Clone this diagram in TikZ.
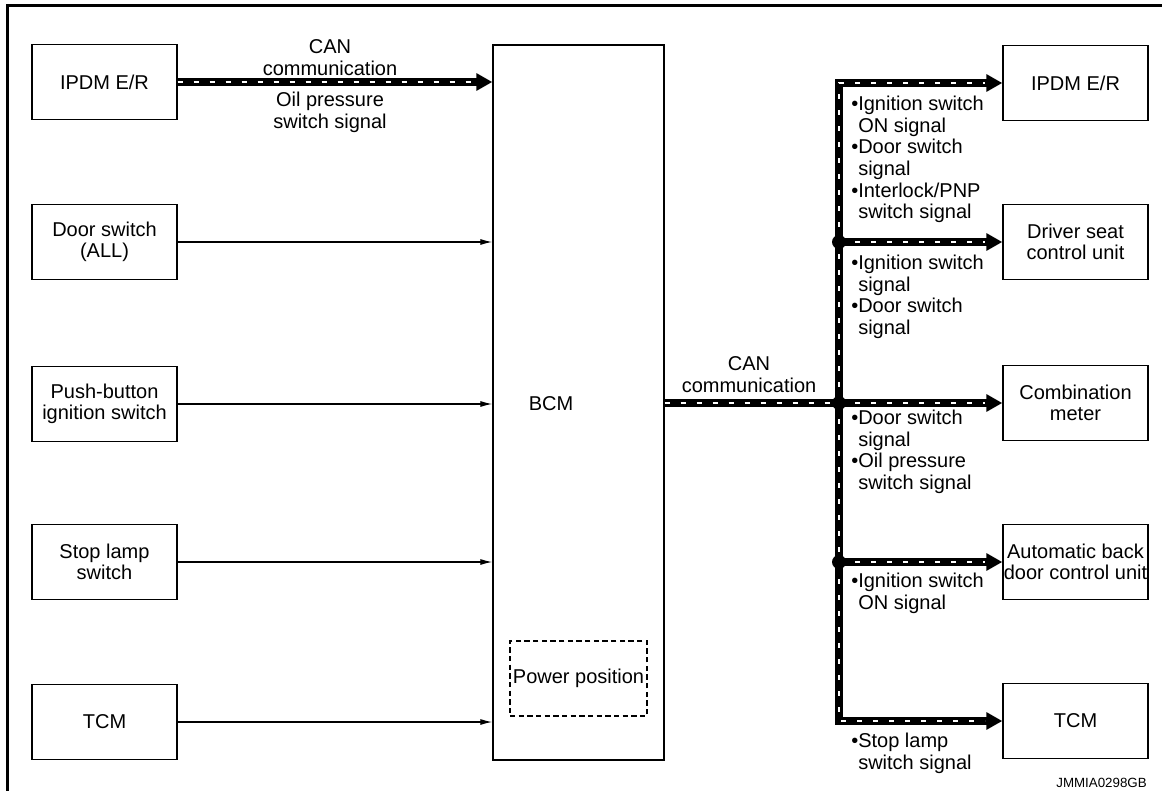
\documentclass[tikz,border=0pt]{standalone}
\usepackage{fontspec}
\setmainfont{Liberation Sans}
\usetikzlibrary{arrows.meta}
\newcommand\diagfont{\fontsize{15}{16.2}\selectfont}
\begin{document}
\begin{tikzpicture}[x=0.75pt,y=-0.75pt,
  box/.style={draw=black, line width=1pt, minimum width=108.75pt, minimum height=56.25pt, align=center, inner sep=0pt, font=\diagfont},
  lbl/.style={align=left, inner sep=0pt, font=\diagfont},
  clbl/.style={align=center, inner sep=0pt, font=\diagfont},
  sig/.style={line width=0.9pt, -{Latex[length=9pt,width=4.5pt]}},
  busline/.style={line width=5.5pt, line join=miter},
  bustip/.style={-{Triangle[length=12pt,width=12.5pt]}},
  busdash/.style={white, line width=1.7pt, dash pattern=on 4pt off 8pt},
  junc/.style={fill=black}]
\useasboundingbox (0,0) rectangle (1162,791);
\draw[line width=2.25pt] (7,6) rectangle (1190,820);

% left boxes
\node[box] (l1) at (104.5,82) {IPDM E/R};
\node[box] (l2) at (104.5,242) {Door switch\\(ALL)};
\node[box] (l3) at (104.5,404) {Push-button\\ignition switch};
\node[box] (l4) at (104.5,562) {Stop lamp\\switch};
\node[box] (l5) at (104.5,722) {TCM};

% BCM
\node[draw=black, line width=1pt, minimum width=128.25pt, minimum height=536.25pt, inner sep=0pt] (bcm) at (578.5,402.5) {};
\node[clbl] (bcmlbl) at (551,404) {BCM};
\node[draw=black, line width=0.9pt, dash pattern=on 4pt off 2.5pt, minimum width=102.75pt, minimum height=56.25pt, inner sep=0pt, font=\diagfont] (pwr) at (578.5,678.5) {Power position};

% right boxes
\node[box] (r1) at (1075.5,83) {IPDM E/R};
\node[box] (r2) at (1075.5,242) {Driver seat\\control unit};
\node[box] (r3) at (1075.5,403) {Combination\\meter};
\node[box] (r4) at (1075.5,562) {Automatic back\\door control unit};
\node[box] (r5) at (1075.5,721) {TCM};

% junctions
\coordinate (vx) at (839,0);
\coordinate (j1) at (vx |- r2.west);
\coordinate (j2) at (vx |- r3.west);
\coordinate (j3) at (vx |- r4.west);

% inputs
\draw[sig] (l2.east) -- (l2.east -| bcm.west);
\draw[sig] (l3.east) -- (l3.east -| bcm.west);
\draw[sig] (l4.east) -- (l4.east -| bcm.west);
\draw[sig] (l5.east) -- (l5.east -| bcm.west);

% CAN from IPDM
\draw[busline, bustip] (l1.east) -- (l1.east -| bcm.west);
\draw[busdash, shorten >=13pt] (l1.east) -- (l1.east -| bcm.west);
\node[clbl, anchor=south] (canl) at (330,76) {CAN\\communication};
\node[clbl, anchor=north] (oill) at (330,92) {Oil pressure\\switch signal};

% CAN out of BCM
\draw[busline] (bcm.east |- j2) -- (j2);
\draw[busline, bustip] (j2) |- (r1.west);
\draw[busline, bustip] (j2) |- (r5.west);
\draw[busline, bustip] (j1) -- (r2.west);
\draw[busline, bustip] (j2) -- (r3.west);
\draw[busline, bustip] (j3) -- (r4.west);
\draw[busdash] (bcm.east |- j2) -- (j2);
\draw[busdash, shorten >=13pt] (j2) |- (r1.west);
\draw[busdash, shorten >=13pt] (j2) |- (r5.west);
\draw[busdash, shorten >=13pt] (j1) -- (r2.west);
\draw[busdash, shorten >=13pt] (j2) -- (r3.west);
\draw[busdash, shorten >=13pt] (j3) -- (r4.west);
\fill[junc] (j1) circle[radius=7];
\fill[junc] (j2) circle[radius=7];
\fill[junc] (j3) circle[radius=7];

\node[clbl, anchor=south] (canr) at (749,393) {CAN\\communication};

% right labels
\node[lbl, anchor=north west] (t1) at (851,96) {•Ignition switch\\\phantom{•}ON signal\\•Door switch\\\phantom{•}signal\\•Interlock/PNP\\\phantom{•}switch signal};
\node[lbl, anchor=north west] (t2) at (851,255) {•Ignition switch\\\phantom{•}signal\\•Door switch\\\phantom{•}signal};
\node[lbl, anchor=north west] (t3) at (851,410) {•Door switch\\\phantom{•}signal\\•Oil pressure\\\phantom{•}switch signal};
\node[lbl, anchor=north west] (t4) at (851,573) {•Ignition switch\\\phantom{•}ON signal};
\node[lbl, anchor=north west] (t5) at (851,733) {•Stop lamp\\\phantom{•}switch signal};

\node[inner sep=0pt, anchor=east, font=\fontsize{10}{12}\selectfont] (code) at (1147,783) {JMMIA0298GB};
\end{tikzpicture}
\end{document}
